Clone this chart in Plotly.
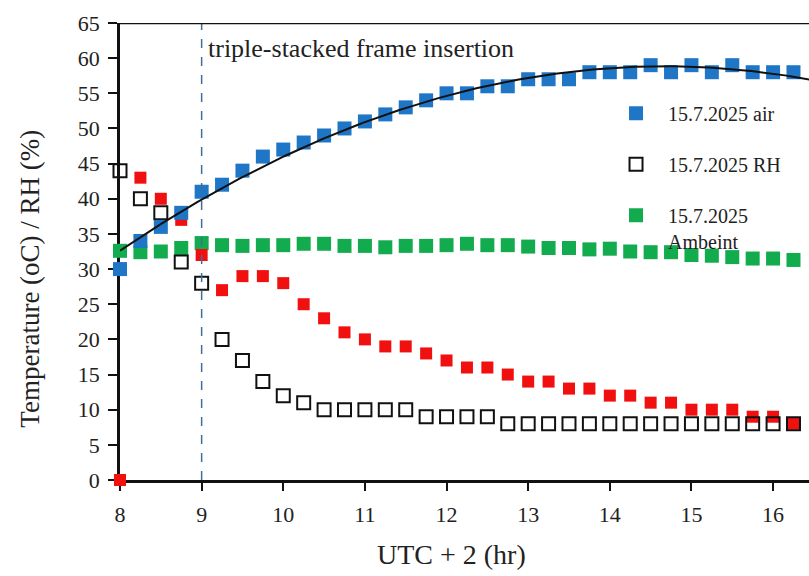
import numpy as np
import plotly.graph_objects as go

# Time of day (UTC+2, hours), 15-minute logging interval
hours = [8.0, 8.25, 8.5, 8.75, 9.0, 9.25, 9.5, 9.75, 10.0, 10.25, 10.5, 10.75,
         11.0, 11.25, 11.5, 11.75, 12.0, 12.25, 12.5, 12.75, 13.0, 13.25, 13.5, 13.75,
         14.0, 14.25, 14.5, 14.75, 15.0, 15.25, 15.5, 15.75, 16.0, 16.25, 16.5]

air_temp = [30, 34, 36, 38, 41, 42, 44, 46, 47, 48, 49, 50,
            51, 52, 53, 54, 55, 55, 56, 56, 57, 57, 57, 58,
            58, 58, 59, 58, 59, 58, 59, 58, 58, 58, 58]

rel_hum = [44, 40, 38, 31, 28, 20, 17, 14, 12, 11, 10, 10,
           10, 10, 10, 9, 9, 9, 9, 8, 8, 8, 8, 8,
           8, 8, 8, 8, 8, 8, 8, 8, 8, 8, 8]

red_series = [0, 43, 40, 37, 32, 27, 29, 29, 28, 25, 23, 21,
              20, 19, 19, 18, 17, 16, 16, 15, 14, 14, 13, 13,
              12, 12, 11, 11, 10, 10, 10, 9, 9, 8, 8]

ambient = [32.6, 32.4, 32.5, 33.0, 33.7, 33.4, 33.3, 33.4, 33.4, 33.6, 33.6, 33.3,
           33.3, 33.1, 33.3, 33.3, 33.4, 33.6, 33.4, 33.4, 33.2, 33.0, 33.0, 32.8,
           32.9, 32.5, 32.4, 32.4, 32.0, 31.9, 31.7, 31.5, 31.5, 31.3, 31.1]

x_ticks = [8, 9, 10, 11, 12, 13, 14, 15, 16]
y_ticks = list(range(0, 70, 5))
event_hour = 9.0
event_label = "triple-stacked frame insertion"

SERIF = "Liberation Serif, Times New Roman, serif"
INK = "#222222"
BLUE = "#1f76c6"
GREEN = "#12ab4e"
RED = "#f01010"

# second-order trend line through the air temperature
coef = np.polyfit(hours, air_temp, 2)
fit_x = np.linspace(8, 16.6, 200)
fit_y = np.polyval(coef, fit_x)

fig = go.Figure()

fig.add_trace(go.Scatter(
    x=hours, y=ambient, mode="markers", name="15.7.2025<br>Ambeint",
    marker=dict(symbol="square", size=14, color=GREEN),
    cliponaxis=False, legendgroup="c", legendrank=3))

fig.add_trace(go.Scatter(
    x=hours, y=red_series, mode="markers", showlegend=False,
    marker=dict(symbol="square", size=12, color=RED),
    cliponaxis=False))

fig.add_trace(go.Scatter(
    x=hours, y=rel_hum, mode="markers", name="15.7.2025 RH",
    marker=dict(symbol="square-open", size=13, color="#111111",
                line=dict(width=2, color="#111111")),
    cliponaxis=False, legendgroup="b", legendrank=2))

fig.add_trace(go.Scatter(
    x=hours, y=air_temp, mode="markers", name="15.7.2025 air",
    marker=dict(symbol="square", size=14, color=BLUE),
    cliponaxis=False, legendgroup="a", legendrank=1))

fig.add_trace(go.Scatter(
    x=fit_x, y=fit_y, mode="lines", showlegend=False,
    line=dict(color="#111111", width=2)))

# event marker
fig.add_shape(type="line", x0=event_hour, x1=event_hour, y0=0, y1=65,
              xref="x", yref="y", line=dict(color="#3b6f9c", width=1.5, dash="dash"))
fig.add_annotation(x=event_hour + 0.05, y=61.4, xref="x", yref="y",
                   text=event_label, showarrow=False, xanchor="left", yanchor="middle",
                   font=dict(family=SERIF, size=26, color=INK))

# frame line along the top
fig.add_shape(type="line", x0=0, x1=1, y0=65, y1=65, xref="paper", yref="y",
              line=dict(color="#111111", width=2.5))

# axis titles
fig.add_annotation(x=0.4815, y=-0.164, xref="paper", yref="paper", text="UTC + 2 (hr)",
                   showarrow=False, xanchor="center", yanchor="middle",
                   font=dict(family=SERIF, size=28, color=INK))
fig.add_annotation(x=-0.131, y=0.44, xref="paper", yref="paper",
                   text="Temperature (oC) / RH (%)", textangle=-90,
                   showarrow=False, xanchor="center", yanchor="middle",
                   font=dict(family=SERIF, size=27, color=INK))

fig.update_layout(
    width=809, height=576,
    margin=dict(l=120, r=0, t=23, b=96),
    paper_bgcolor="white", plot_bgcolor="white",
    font=dict(family=SERIF, size=22, color=INK),
    showlegend=True,
    legend=dict(x=0.7025, y=0.845, xanchor="left", yanchor="top",
                bgcolor="rgba(0,0,0,0)", traceorder="grouped", tracegroupgap=22,
                itemwidth=54, valign="top",
                font=dict(family=SERIF, size=20, color=INK)),
)

fig.update_xaxes(range=[8, 16.44], tickvals=x_ticks, showgrid=False, zeroline=False,
                 showline=True, linecolor="#111111", linewidth=2.5,
                 ticks="outside", ticklen=8, tickwidth=2, tickcolor="#111111",
                 ticklabelstandoff=5,
                 layer="below traces", tickfont=dict(family=SERIF, size=22, color=INK))
fig.update_yaxes(range=[0, 65], tickvals=y_ticks, showgrid=False, zeroline=False,
                 showline=True, linecolor="#111111", linewidth=2.5,
                 ticks="outside", ticklen=9, tickwidth=2, tickcolor="#111111",
                 ticklabelstandoff=4,
                 layer="below traces", tickfont=dict(family=SERIF, size=22, color=INK))

fig.write_html("out.html")
